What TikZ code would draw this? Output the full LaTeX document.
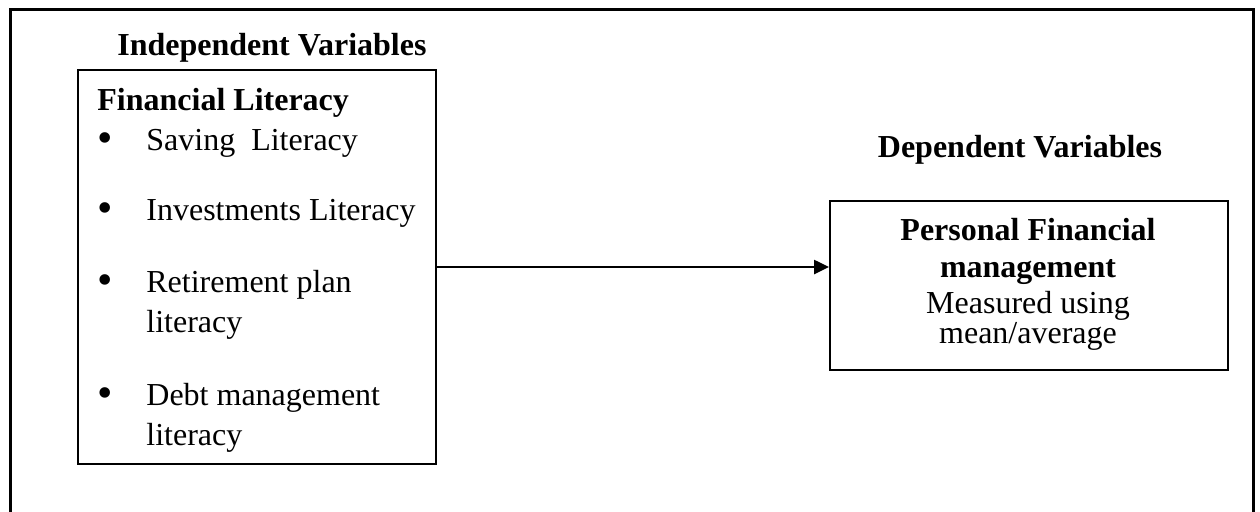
\documentclass[tikz,border=0pt]{standalone}
\usepackage{fontspec}
\setmainfont{Liberation Serif}
\usetikzlibrary{arrows.meta}
\begin{document}
\begin{tikzpicture}[x=0.5pt, y=-0.5pt,
  every node/.style={font=\fontsize{16}{19}\selectfont, inner sep=0pt},
  lbl/.style={anchor=base west},
  ctr/.style={anchor=base},
  hd/.style={font=\fontsize{16}{19}\selectfont\bfseries},
  dot/.style={anchor=base, font=\fontsize{22}{22}\selectfont},
  varbox/.style={draw, line width=1pt, anchor=north west}]
  \useasboundingbox (0,0) rectangle (1260,511);

  \coordinate (OBL) at (10,520);
  \coordinate (OTL) at (10,9);
  \coordinate (OTR) at (1253,9);
  \coordinate (OBR) at (1253,520);
  \draw[line width=1.5pt] (OBL)--(OTL)--(OTR)--(OBR);

  \node[varbox, minimum width=179pt, minimum height=197pt] (litbox) at (77,69) {};
  \node[varbox, minimum width=199pt, minimum height=84.5pt] (pfmbox) at (829,200) {};
  \draw[line width=1.3pt, -{Triangle[length=7.5pt,width=7pt]}] (litbox.east) -- (pfmbox.west |- litbox.east);

  \node[lbl, hd] (indep) at (117,55) {Independent Variables};
  \node[lbl, hd] (fl)    at (97,110) {Financial Literacy};

  \node[dot] (b1) at (105,152) {•};
  \node[dot] (b2) at (105,222) {•};
  \node[dot] (b3) at (105,294) {•};
  \node[dot] (b4) at (105,407) {•};
  \node[lbl] (sav)  at (146,150) {Saving\ \ Literacy};
  \node[lbl] (inv)  at (146,220) {Investments Literacy};
  \node[lbl] (ret)  at (146,292) {Retirement plan};
  \node[lbl] (ret2) at (146,332) {literacy};
  \node[lbl] (debt) at (146,405) {Debt management};
  \node[lbl] (dbt2) at (146,445) {literacy};

  \node[ctr, hd] (dep) at (1020,157) {Dependent Variables};
  \node[ctr, hd] (pf)  at (1028,240) {Personal Financial};
  \node[ctr, hd] (mg)  at (1028,277) {management};
  \node[ctr] (ms)  at (1028,313) {Measured using};
  \node[ctr] (mn)  at (1028,343) {mean/average};
\end{tikzpicture}
\end{document}
